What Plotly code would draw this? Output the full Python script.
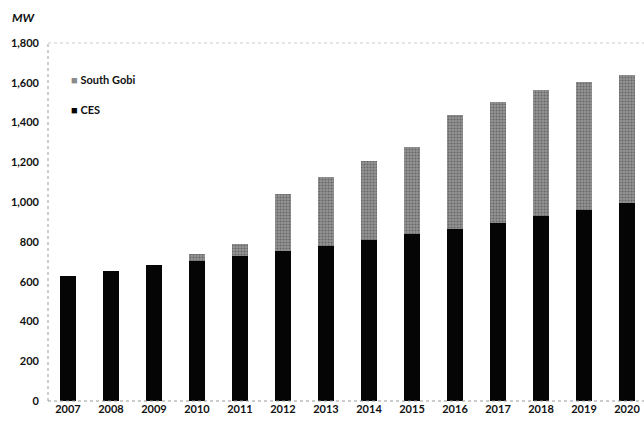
import plotly.graph_objects as go

years = ["2007", "2008", "2009", "2010", "2011", "2012", "2013",
         "2014", "2015", "2016", "2017", "2018", "2019", "2020"]
ces = [630, 652, 683, 702, 729, 756, 781, 810, 840, 865, 897, 930, 961, 996]
total = [630, 652, 683, 738, 788, 1041, 1127, 1207, 1279, 1439, 1504, 1564, 1605, 1641]
south_gobi = [t - c for t, c in zip(total, ces)]
y_ticks = [0, 200, 400, 600, 800, 1000, 1200, 1400, 1600, 1800]
y_tick_labels = ["0", "200", "400", "600", "800", "1,000", "1,200", "1,400", "1,600", "1,800"]

font_family = "Lato, Open Sans, sans-serif"
CES_COLOR = "#050505"
SG_COLOR = "#7e7e7e"

fig = go.Figure()
fig.add_trace(go.Bar(x=years, y=ces, name="CES", marker_color=CES_COLOR,
                     marker_line_width=0))
fig.add_trace(go.Bar(x=years, y=south_gobi, name="South Gobi",
                     marker=dict(color=SG_COLOR, line_width=0,
                                 pattern=dict(shape=".", fgcolor="#3a3a3a", bgcolor="#959595",
                                              size=3, solidity=0.4))))

legend_items = [("South Gobi", "#8a8a8a", 0.897), ("CES", CES_COLOR, 0.813)]
annotations = [dict(text="<b><i>MW</i></b>", xref="paper", yref="paper",
                    x=-0.063, y=1.07, xanchor="left", yanchor="middle",
                    showarrow=False, font=dict(size=12, color="#111"))]
for label, color, ypos in legend_items:
    annotations.append(dict(
        text=f"<span style='color:{color}'>■</span> <b>{label}</b>",
        xref="paper", yref="paper", x=0.036, y=ypos, xanchor="left", yanchor="middle",
        showarrow=False, font=dict(size=11, color="#111")))

fig.update_layout(
    width=644, height=424,
    barmode="stack", bargap=0.61,
    plot_bgcolor="white", paper_bgcolor="white",
    margin=dict(l=48, r=0, t=43, b=23),
    font=dict(family=font_family, size=11, color="#1a1a1a"),
    showlegend=False,
    xaxis=dict(range=[-0.465, 13.395], showgrid=False, showline=False, ticks="",
               tickfont=dict(size=11, weight="bold", color="#111")),
    yaxis=dict(range=[0, 1800], tickvals=y_ticks, ticktext=y_tick_labels,
               showgrid=False, zeroline=False, showline=False, ticks="",
               ticklabelstandoff=8,
               tickfont=dict(size=11, weight="bold", color="#111")),
    annotations=annotations,
    shapes=[
        dict(type="line", xref="paper", yref="paper", x0=0, x1=0, y0=0, y1=1,
             line=dict(color="#999", width=1, dash="dot")),
        dict(type="line", xref="paper", yref="paper", x0=0, x1=1, y0=0, y1=0,
             line=dict(color="#999", width=1, dash="dot")),
        dict(type="line", xref="paper", yref="paper", x0=0, x1=1, y0=1, y1=1,
             line=dict(color="#ccc", width=1, dash="dot")),
    ],
)

fig.write_html("out.html", config={"displayModeBar": False},
               post_script="document.body.style.margin='0';document.body.style.overflow='hidden';")
